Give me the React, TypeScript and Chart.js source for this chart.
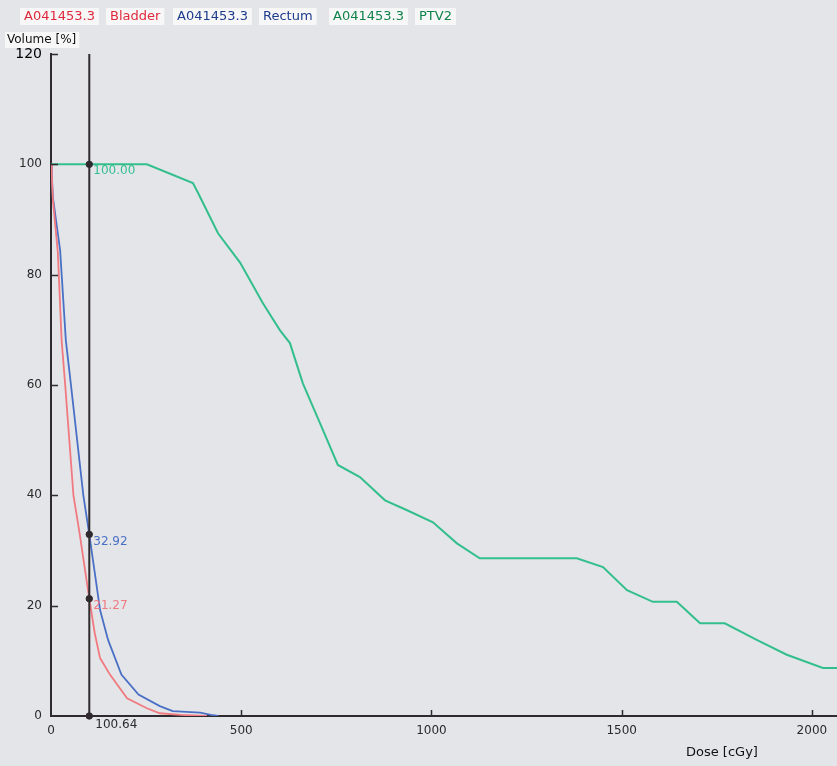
import React, { useEffect, useRef } from "react";
import { Chart, registerables } from "chart.js";

Chart.register(...registerables);

// ---- data ----
const ptvDose = [0, 252, 373, 386, 439, 497, 557, 602, 628, 662, 707, 754, 812, 878, 936, 1004, 1067, 1127, 1382, 1451, 1514, 1582, 1645, 1706, 1771, 1855, 1934, 2029, 2066];
const ptvVolume = [100, 100, 96.6, 94.9, 87.5, 82.2, 74.8, 69.9, 67.6, 60.3, 53.1, 45.5, 43.3, 39.1, 37.3, 35.1, 31.3, 28.6, 28.6, 27.0, 22.8, 20.7, 20.7, 16.8, 16.8, 13.8, 11.1, 8.7, 8.7];

const rectumDose = [0, 2, 5, 24, 39, 52, 85, 100.64, 115, 129, 150, 185, 230, 286, 320, 392, 420, 440];
const rectumVolume = [100, 98, 94, 84.4, 68.1, 60.3, 40, 32.92, 26, 19.2, 13.8, 7.5, 3.9, 1.8, 0.9, 0.6, 0.2, 0];

const bladderDose = [0, 2, 5, 18, 28, 37, 59, 75, 100.64, 115, 129, 155, 200, 252, 286, 340, 410];
const bladderVolume = [100, 98, 93.5, 84, 68, 60.3, 40, 33.2, 21.27, 15, 10.5, 7.5, 3.2, 1.4, 0.5, 0.2, 0];

const cursorDose = 100.64;
const cursorValues = [100.0, 32.92, 21.27, 0];
const cursorLabels = ["100.00", "32.92", "21.27"];

const xTicks = [0, 500, 1000, 1500, 2000];
const yTicks = [0, 20, 40, 60, 80, 100, 120];
const xMax = 2066;
const yMax = 120;

const legendItems = [
  { text: "A041453.3", color: "#e0283c" },
  { text: "Bladder", color: "#e0283c" },
  { text: "A041453.3", color: "#1e3c8c" },
  { text: "Rectum", color: "#1e3c8c" },
  { text: "A041453.3", color: "#10824b" },
  { text: "PTV2", color: "#10824b" },
];
const legendX = [24, 110, 177, 263, 333, 419];

const PTV_COLOR = "#33bf8d";
const RECTUM_COLOR = "#4a70c6";
const BLADDER_COLOR = "#f07a80";
const AXIS_COLOR = "#2f2a2e";
const FONT = "'DejaVu Sans', sans-serif";

function pts(xs: number[], ys: number[]) {
  return xs.map((x, i) => ({ x, y: ys[i] }));
}

const overlayPlugin = {
  id: "overlay",
  beforeDraw(chart: any) {
    const ctx = chart.ctx;
    ctx.save();
    ctx.fillStyle = "#e4e5e8";
    ctx.fillRect(0, 0, chart.width, chart.height);
    ctx.restore();
  },
  afterDraw(chart: any) {
    const ctx = chart.ctx;
    const xs = chart.scales.x;
    const ys = chart.scales.y;
    const area = chart.chartArea;
    ctx.save();

    // inward tick marks
    ctx.strokeStyle = AXIS_COLOR;
    ctx.lineWidth = 1.5;
    yTicks.forEach((v) => {
      if (v === 0) return;
      const py = Math.round(ys.getPixelForValue(v)) + 0.5;
      ctx.beginPath();
      ctx.moveTo(area.left, py);
      ctx.lineTo(area.left + 7, py);
      ctx.stroke();
    });
    xTicks.forEach((v) => {
      if (v === 0) return;
      const px = Math.round(xs.getPixelForValue(v)) + 0.5;
      ctx.beginPath();
      ctx.moveTo(px, area.bottom);
      ctx.lineTo(px, area.bottom - 6);
      ctx.stroke();
    });

    // cursor readings
    const cx = xs.getPixelForValue(cursorDose);
    const labelColors = [PTV_COLOR, RECTUM_COLOR, BLADDER_COLOR];
    ctx.font = `12px ${FONT}`;
    ctx.textBaseline = "middle";
    ctx.textAlign = "left";
    cursorLabels.forEach((t, i) => {
      const py = ys.getPixelForValue(cursorValues[i]);
      ctx.fillStyle = labelColors[i];
      ctx.fillText(t, cx + 4, py + 7);
    });
    ctx.fillStyle = "#2a2a2a";
    ctx.fillText(cursorDose.toFixed(2), cx + 6, area.bottom + 9);

    // legend
    ctx.font = `13px ${FONT}`;
    legendItems.forEach((item, i) => {
      const w = ctx.measureText(item.text).width;
      ctx.fillStyle = "#f7f7f7";
      ctx.fillRect(legendX[i] - 4, 8, w + 8, 17);
      ctx.fillStyle = item.color;
      ctx.fillText(item.text, legendX[i], 16.5);
    });

    // axis titles
    ctx.font = `12px ${FONT}`;
    const vt = "Volume [%]";
    ctx.fillStyle = "#f7f7f7";
    ctx.fillRect(5, 32, ctx.measureText(vt).width + 5, 16);
    ctx.fillStyle = "#111";
    ctx.fillText(vt, 7, 40);

    ctx.font = `13px ${FONT}`;
    ctx.fillStyle = "#111";
    ctx.fillText("Dose [cGy]", 686, 753);

    ctx.restore();
  },
};

export default function App() {
  const canvasRef = useRef<HTMLCanvasElement | null>(null);

  useEffect(() => {
    document.body.style.margin = "0";
    const canvas = canvasRef.current;
    if (!canvas) return;
    const chart = new Chart(canvas, {
      type: "scatter",
      data: {
        datasets: [
          {
            label: "cursor points",
            data: cursorValues.map((v) => ({ x: cursorDose, y: v })),
            showLine: false,
            pointRadius: 3.2,
            pointHoverRadius: 3.2,
            pointBackgroundColor: AXIS_COLOR,
            pointBorderColor: AXIS_COLOR,
            clip: false,
          },
          {
            label: "cursor",
            data: [
              { x: cursorDose, y: 0 },
              { x: cursorDose, y: yMax },
            ],
            showLine: true,
            borderColor: AXIS_COLOR,
            borderWidth: 2,
            pointRadius: 0,
            pointHoverRadius: 0,
            clip: false,
          },
          {
            label: "A041453.3 Bladder",
            data: pts(bladderDose, bladderVolume),
            showLine: true,
            borderColor: BLADDER_COLOR,
            borderWidth: 1.8,
            pointRadius: 0,
            pointHoverRadius: 0,
            tension: 0,
          },
          {
            label: "A041453.3 Rectum",
            data: pts(rectumDose, rectumVolume),
            showLine: true,
            borderColor: RECTUM_COLOR,
            borderWidth: 1.8,
            pointRadius: 0,
            pointHoverRadius: 0,
            tension: 0,
          },
          {
            label: "A041453.3 PTV2",
            data: pts(ptvDose, ptvVolume),
            showLine: true,
            borderColor: PTV_COLOR,
            borderWidth: 2,
            pointRadius: 0,
            pointHoverRadius: 0,
            tension: 0,
          },
        ],
      },
      options: {
        responsive: false,
        animation: false,
        devicePixelRatio: 1,
        events: [],
        layout: { autoPadding: false, padding: { top: 54, left: 0, right: 0, bottom: 0 } },
        plugins: {
          legend: { display: false },
          tooltip: { enabled: false },
        },
        scales: {
          x: {
            type: "linear",
            min: 0,
            max: xMax,
            afterBuildTicks: (s: any) => {
              s.ticks = xTicks.map((v) => ({ value: v }));
            },
            afterFit: (s: any) => {
              s.height = 50;
              s.paddingLeft = 0;
              s.paddingRight = 0;
            },
            grid: { display: true, drawOnChartArea: false, drawTicks: false },
            border: { display: true, color: AXIS_COLOR, width: 2 },
            ticks: {
              padding: 8,
              maxRotation: 0,
              autoSkip: false,
              color: "#2a2a2a",
              font: { family: FONT, size: 12 },
              callback: (v: any) => String(v),
            },
          },
          y: {
            type: "linear",
            min: 0,
            max: yMax,
            afterBuildTicks: (s: any) => {
              s.ticks = yTicks.map((v) => ({ value: v }));
            },
            afterFit: (s: any) => {
              s.width = 51;
              s.paddingTop = 0;
              s.paddingBottom = 0;
            },
            grid: { display: true, drawOnChartArea: false, drawTicks: false },
            border: { display: true, color: AXIS_COLOR, width: 2 },
            ticks: {
              padding: 9,
              autoSkip: false,
              color: (c: any) => (c.tick && c.tick.value === 120 ? "#000" : "#2a2a2a"),
              font: (c: any) => ({
                family: FONT,
                size: c.tick && c.tick.value === 120 ? 14 : 12,
              }),
              callback: (v: any) => String(v),
            },
          },
        },
      },
      plugins: [overlayPlugin],
    });
    return () => chart.destroy();
  }, []);

  return (
    <div style={{ width: 837, height: 766 }}>
      <canvas ref={canvasRef} width={837} height={766} style={{ display: "block" }} />
    </div>
  );
}
